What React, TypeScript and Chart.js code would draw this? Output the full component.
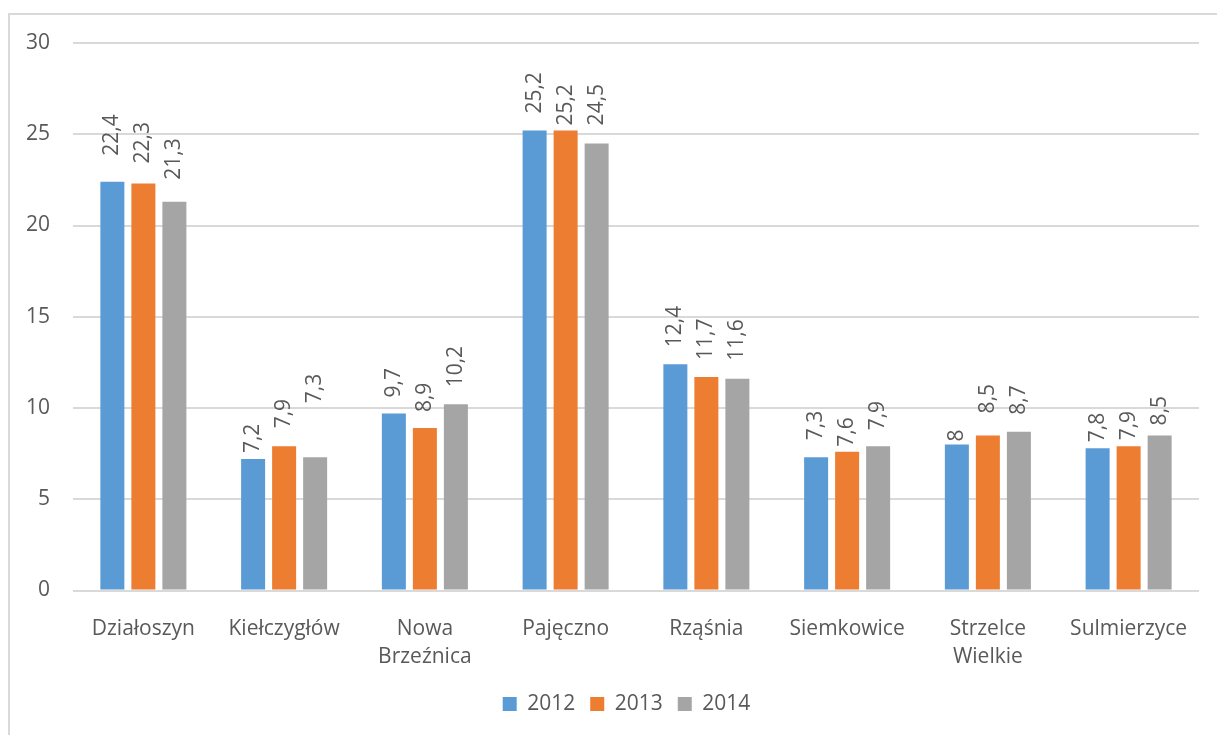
import React, { useEffect, useRef } from "react";
import { Chart, registerables } from "chart.js";

Chart.register(...registerables);

const categories: (string | string[])[] = [
  "Działoszyn",
  "Kiełczygłów",
  ["Nowa", "Brzeźnica"],
  "Pajęczno",
  "Rząśnia",
  "Siemkowice",
  ["Strzelce", "Wielkie"],
  "Sulmierzyce",
];
const seriesNames = ["2012", "2013", "2014"];
const values2012 = [22.4, 7.2, 9.7, 25.2, 12.4, 7.3, 8, 7.8];
const values2013 = [22.3, 7.9, 8.9, 25.2, 11.7, 7.6, 8.5, 7.9];
const values2014 = [21.3, 7.3, 10.2, 24.5, 11.6, 7.9, 8.7, 8.5];
const yTicks = [0, 5, 10, 15, 20, 25, 30];

// styling
const colors = ["#5B9BD5", "#ED7D31", "#A5A5A5"];
const textColor = "#595959";
const FONT = "'Open Sans', 'Noto Sans', sans-serif";
const FS = 21;
const LEGEND_SHIFT = 27;
// gap (px) between each bar top and the start of its rotated label
const labelGaps = [
  [26, 6, 16, 17, 17, 17, 3, 6],
  [20, 18, 16, 5, 17, 5, 22, 6],
  [22, 54, 17, 18, 18, 16, 17, 10],
];

const rotatedLabels = {
  id: "rotatedLabels",
  afterLayout(chart: any) {
    if (chart.legend) {
      chart.legend.left += LEGEND_SHIFT;
      chart.legend.right += LEGEND_SHIFT;
    }
  },
  afterDatasetsDraw(chart: any) {
    const ctx = chart.ctx;
    ctx.save();
    ctx.fillStyle = textColor;
    ctx.font = `${FS}px ${FONT}`;
    ctx.textAlign = "left";
    ctx.textBaseline = "middle";
    chart.data.datasets.forEach((ds: any, di: number) => {
      const meta = chart.getDatasetMeta(di);
      meta.data.forEach((bar: any, i: number) => {
        const v = ds.data[i];
        const txt = String(v).replace(".", ",");
        const gap = labelGaps[di][i];
        ctx.save();
        ctx.translate(bar.x, bar.y - gap);
        ctx.rotate(-Math.PI / 2);
        ctx.fillText(txt, 0, 0);
        ctx.restore();
      });
    });
    ctx.restore();
  },
};

export default function App() {
  const ref = useRef<HTMLCanvasElement | null>(null);
  useEffect(() => {
    if (!ref.current) return;
    const series = [values2012, values2013, values2014];
    const chart = new Chart(ref.current, {
      type: "bar",
      data: {
        labels: categories,
        datasets: series.map((d, i) => ({
          label: seriesNames[i],
          data: d,
          backgroundColor: colors[i],
          borderWidth: 0,
          categoryPercentage: 0.661,
          barPercentage: 0.774,
        })),
      },
      options: {
        responsive: false,
        animation: false,
        devicePixelRatio: 1,
        layout: { padding: { left: 0, top: 43, right: 18, bottom: 10.5 } },
        plugins: {
          tooltip: { enabled: false },
          legend: {
            position: "bottom",
            labels: {
              boxWidth: 14,
              boxHeight: 14,
              padding: 15,
              color: textColor,
              font: { family: FONT, size: FS },
            },
          },
        },
        scales: {
          x: {
            grid: { display: false },
            border: { display: false },
            ticks: {
              color: textColor,
              padding: 17,
              font: { family: FONT, size: FS, lineHeight: 28 / 21 },
              maxRotation: 0,
              autoSkip: false,
            },
            afterFit: (s: any) => {
              s.height = 88;
            },
          },
          y: {
            min: yTicks[0],
            max: yTicks[yTicks.length - 1],
            border: { display: false },
            grid: { color: "#D9D9D9", lineWidth: 2, drawTicks: false },
            ticks: {
              stepSize: yTicks[1] - yTicks[0],
              color: textColor,
              padding: 23,
              font: { family: FONT, size: FS },
            },
            afterFit: (s: any) => {
              s.width = 73;
            },
          },
        },
      },
      plugins: [rotatedLabels],
    });
    return () => chart.destroy();
  }, []);

  return (
    <>
      <div
        style={{
          position: "fixed",
          left: 8,
          top: 13,
          width: 1209,
          height: 722,
          boxSizing: "border-box",
          borderTop: "2px solid #D9D9D9",
          borderLeft: "2px solid #D9D9D9",
        }}
      />
      <canvas
        ref={ref}
        width={1217}
        height={735}
        style={{ position: "fixed", left: 0, top: 0, width: 1217, height: 735 }}
      />
    </>
  );
}
